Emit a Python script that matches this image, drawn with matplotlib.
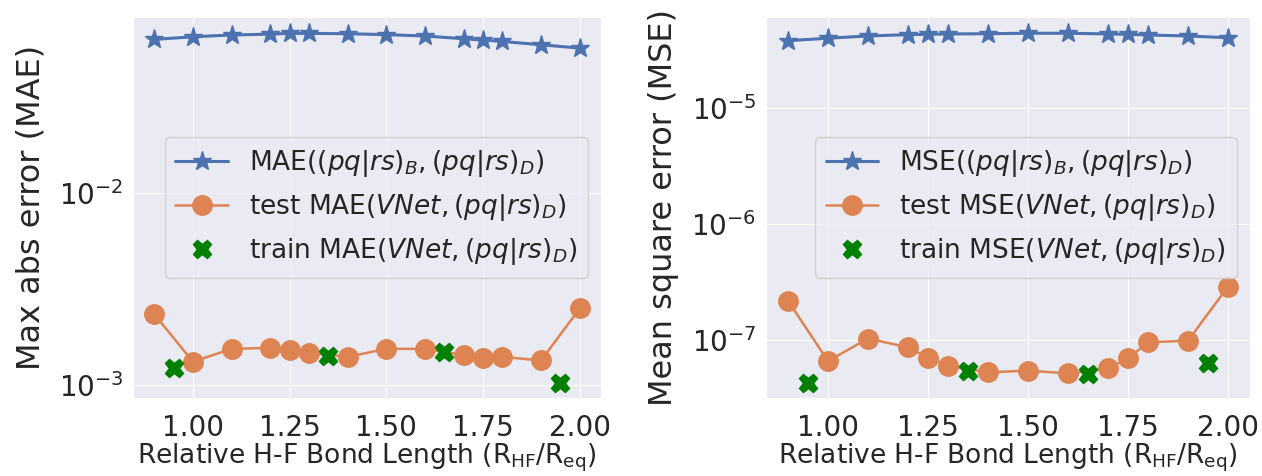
import matplotlib
matplotlib.use("Agg")
import matplotlib.pyplot as plt
import seaborn as sns

# bond lengths (R_HF / R_eq)
bond = [0.9, 1.0, 1.1, 1.2, 1.25, 1.3, 1.4, 1.5, 1.6, 1.7, 1.75, 1.8, 1.9, 2.0]
train_bond = [0.95, 1.35, 1.65, 1.95]

# max abs error
mae_basis = [0.0627, 0.0647, 0.0661, 0.0668, 0.0674, 0.0674, 0.0671, 0.0664,
             0.0653, 0.0632, 0.0622, 0.0612, 0.0588, 0.0565]
mae_test = [0.00233, 0.00132, 0.00154, 0.00156, 0.00152, 0.00147, 0.00140,
            0.00154, 0.00154, 0.00143, 0.00138, 0.00140, 0.00134, 0.00250]
mae_train = [0.00122, 0.00142, 0.00149, 0.00102]

# mean square error
mse_basis = [3.77e-5, 3.96e-5, 4.14e-5, 4.25e-5, 4.28e-5, 4.31e-5, 4.33e-5,
             4.37e-5, 4.37e-5, 4.31e-5, 4.28e-5, 4.22e-5, 4.14e-5, 4.00e-5]
mse_test = [2.18e-7, 6.59e-8, 1.03e-7, 8.65e-8, 7.05e-8, 6.01e-8, 5.27e-8,
            5.45e-8, 5.16e-8, 5.70e-8, 6.95e-8, 9.55e-8, 9.87e-8, 2.88e-7]
mse_train = [4.29e-8, 5.41e-8, 5.06e-8, 6.30e-8]

sns.set_style("darkgrid")
plt.rcParams['font.family'] = ['DejaVu Sans']

fig = plt.figure(figsize=(12.62, 4.76), dpi=100)
ax1 = fig.add_axes([133 / 1262, 78 / 476, 468 / 1262, 381 / 476])
ax2 = fig.add_axes([766 / 1262, 78 / 476, 484 / 1262, 381 / 476])

xlabel = r'Relative H-F Bond Length (R$_{\rm HF}$/R$_{\rm eq}$)'


def draw(ax, name, basis, test, train, ylabel, ylim):
    ax.plot(bond, basis, marker='*', color='#4C72B0', lw=2.2, ms=14,
            label=name + r'$((pq|rs)_B, (pq|rs)_D)$')
    ax.plot(bond, test, marker='o', color='#DD8452', lw=1.8, ms=14,
            label='test ' + name + r'$(VNet, (pq|rs)_D)$')
    ax.plot(train_bond, train, 'X', color='green', ms=13,
            label='train ' + name + r'$(VNet, (pq|rs)_D)$')
    ax.set_yscale('log')
    ax.set_ylim(*ylim)
    ax.set_xlabel(xlabel, fontsize=19, labelpad=0)
    ax.set_ylabel(ylabel, fontsize=23, labelpad=9)
    ax.tick_params(labelsize=20)
    ax.tick_params(axis='x', pad=8)
    ax.legend(loc='center right', fontsize=19, handlelength=2.0)


draw(ax1, 'MAE', mae_basis, mae_test, mae_train, 'Max abs error (MAE)', (8.55e-4, 0.082))
draw(ax2, 'MSE', mse_basis, mse_test, mse_train, 'Mean square error (MSE)', (3.17e-8, 6.03e-5))

fig.savefig('out.png', dpi=100)
